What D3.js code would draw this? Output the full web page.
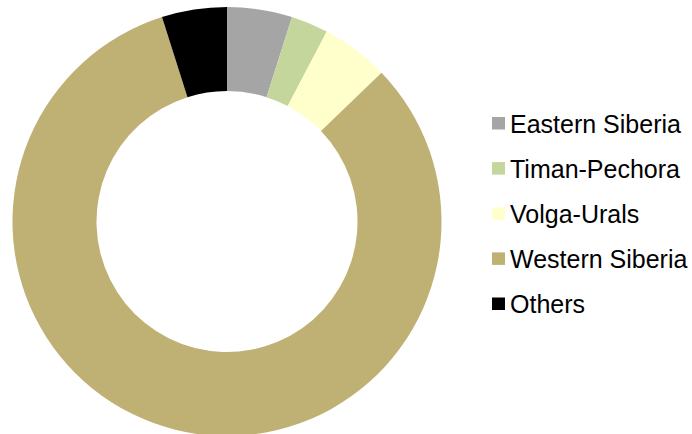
<!DOCTYPE html>
<html>
<head>
<meta charset="utf-8">
<script src="https://cdn.jsdelivr.net/npm/d3@7/dist/d3.min.js"></script>
<style>
  body { margin: 0; background: #fff; }
  text { font-family: "Liberation Sans", Arial, sans-serif; }
</style>
</head>
<body>
<div id="canvas"></div>
<script>
const regions = ["Eastern Siberia", "Timan-Pechora", "Volga-Urals", "Western Siberia", "Others"];
const shares = [4.9, 2.8, 5.1, 82.3, 4.9];
const colors = ["#A5A5A5", "#C4D69B", "#FFFFCC", "#BFB074", "#000000"];

const width = 692, height = 434;
const cx = 227, cy = 221.5, outerR = 214.5, innerR = 130.5;

const svg = d3.select("#canvas")
    .append("svg")
    .attr("width", width)
    .attr("height", height);

const data = regions.map((r, i) => ({ region: r, value: shares[i] }));

const color = d3.scaleOrdinal()
    .domain(regions)
    .range(colors);

const pie = d3.pie()
    .value(d => d.value)
    .sort(null);

const arc = d3.arc()
    .innerRadius(innerR)
    .outerRadius(outerR);

// Donut
svg.append("g")
    .attr("transform", `translate(${cx},${cy})`)
    .selectAll("path")
    .data(pie(data))
    .join("path")
    .attr("d", arc)
    .attr("fill", d => color(d.data.region));

// Legend
const legendY = d3.scalePoint()
    .domain(regions)
    .range([123.5, 304])

const legend = svg.append("g")
    .selectAll("g")
    .data(regions)
    .join("g")
    .attr("transform", d => `translate(492,${legendY(d)})`);

legend.append("rect")
    .attr("x", 0)
    .attr("y", -6.5)
    .attr("width", 13)
    .attr("height", 12.5)
    .attr("fill", d => color(d));

legend.append("text")
    .attr("x", 18)
    .attr("y", 0)
    .attr("dominant-baseline", "central")
    .style("font-size", "25px")
    .style("fill", "#000")
    .text(d => d);
</script>
</body>
</html>
